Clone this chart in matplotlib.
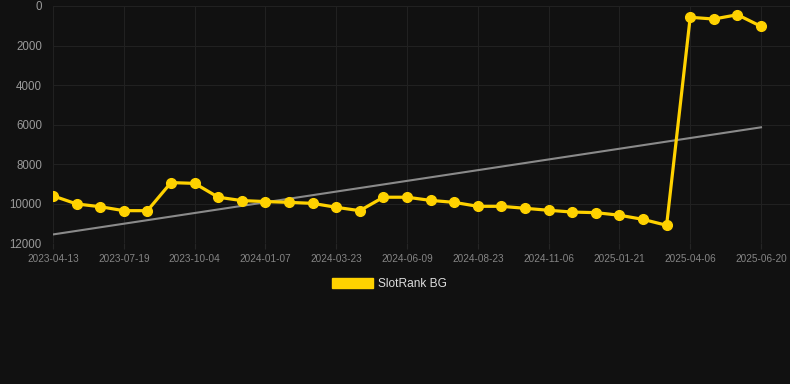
import numpy as np
import matplotlib
matplotlib.use("Agg")
import matplotlib.pyplot as plt
from matplotlib.patches import Patch

plt.rcParams['font.family'] = ['Liberation Sans', 'DejaVu Sans']

# Rank history (lower is better, axis is inverted)
dates = ['2023-04-13', '2023-05-10', '2023-06-05', '2023-07-19', '2023-08-08',
         '2023-09-02', '2023-10-04', '2023-10-28', '2023-11-20', '2024-01-07',
         '2024-01-30', '2024-02-25', '2024-03-23', '2024-04-18', '2024-05-15',
         '2024-06-09', '2024-07-05', '2024-07-29', '2024-08-23', '2024-09-18',
         '2024-10-12', '2024-11-06', '2024-12-01', '2024-12-27', '2025-01-21',
         '2025-02-15', '2025-03-12', '2025-04-06', '2025-04-30', '2025-05-26',
         '2025-06-20']
ranks = [9600, 10010, 10150, 10350, 10350, 8930, 8970, 9670, 9840, 9890,
         9930, 9980, 10180, 10350, 9670, 9670, 9830, 9930, 10130, 10130,
         10230, 10330, 10420, 10450, 10580, 10790, 11090, 570, 660, 440, 1030]
y_ticks = [0, 2000, 4000, 6000, 8000, 10000, 12000]
series_name = 'SlotRank BG'

bg = '#111111'
gold = '#FFD200'

fig = plt.figure(figsize=(7.9, 3.84), dpi=100, facecolor=bg)
ax = fig.add_axes([53 / 790, 1 - 243.3 / 384, (790 - 53) / 790, (243.3 - 6) / 384])
ax.set_facecolor(bg)

x = np.arange(len(ranks))

# trend line (least squares over the series)
slope, icpt = np.polyfit(x, ranks, 1)
ax.plot(x, slope * x + icpt, color='#8a8a8a', lw=1.5, zorder=2)

ax.plot(x, ranks, color=gold, lw=2.3, marker='o', ms=7,
        markerfacecolor=gold, markeredgecolor=gold, zorder=3)

ax.set_ylim(12000, 0)
ax.set_xlim(0, 30 + 29 / 23.6)
ax.set_yticks(y_ticks)
ax.set_yticklabels([str(v) for v in y_ticks])
ax.set_xticks(x[::3])
ax.set_xticklabels(dates[::3])

ax.grid(True, color='#212121', lw=0.8)
ax.set_axisbelow(True)
for s in ax.spines.values():
    s.set_visible(False)
ax.tick_params(axis='y', colors='#252525', labelcolor='#9a9a9a', labelsize=8.3,
               length=0, pad=8)
ax.tick_params(axis='x', colors='#252525', labelcolor='#858585', labelsize=7.2,
               length=4, pad=4)

leg = fig.legend(handles=[Patch(facecolor=gold, edgecolor=gold)], labels=[series_name],
                 loc='center', bbox_to_anchor=(0.493, 1 - 284 / 384), frameon=False,
                 fontsize=8.6, handlelength=3.4, handleheight=1.0, handletextpad=0.45)
for t in leg.get_texts():
    t.set_color('#dddddd')

fig.savefig('out.png', dpi=100, facecolor=bg)
